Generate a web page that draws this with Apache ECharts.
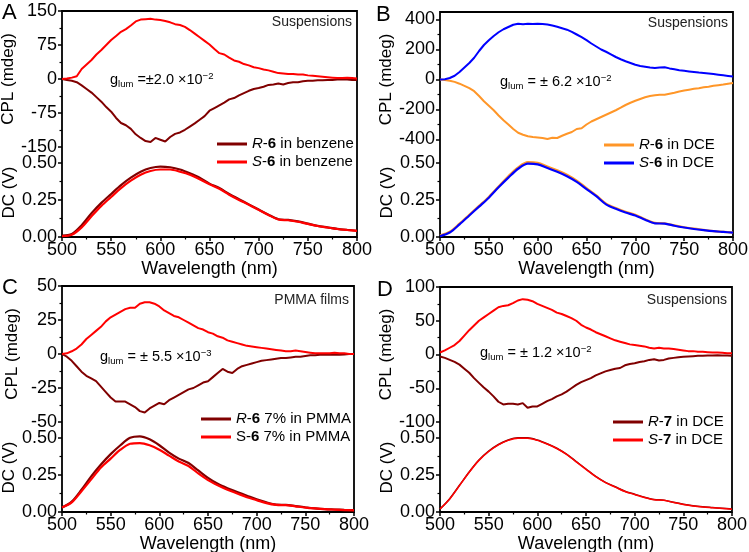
<!DOCTYPE html>
<html><head><meta charset="utf-8">
<script src="https://cdn.jsdelivr.net/npm/echarts@6/dist/echarts.min.js"></script>
<style>html,body{margin:0;padding:0;background:#fff}#c{width:749px;height:552px}</style>
</head><body><div id="c"></div>
<script>
// ---------------- data ----------------
const wl5 = [500,505,510,515,520,525,530,535,540,545,550,555,560,565,570,575,580,585,590,595,600,605,610,615,620,625,630,635,640,645,650,655,660,665,670,675,680,685,690,695,700,705,710,715,720,725,730,735,740,745,750,755,760,765,770,775,780,785,790,795,800];
const wl10 = [500,510,520,530,540,550,560,570,580,590,600,610,620,630,640,650,660,670,680,690,700,710,720,730,740,750,760,770,780,790,800];

// Panel A (benzene suspensions)
const A_cplR = [0,-2,-4,-7,-14,-22,-30,-40,-50,-62,-72,-86,-97,-102,-110,-122,-130,-137,-139,-130,-134,-138,-128,-121,-118,-112,-105,-98,-90,-82,-70,-64,-58,-52,-45,-42,-36,-31,-26,-22,-20,-17,-13,-12,-10,-12,-9,-7,-7,-5,-4,-4,-3,-3,-2,-2,-1,-1,-1,-2,-2];
const A_cplS = [0,1,3,6,22,32,42,54,64,75,86,95,104,110,118,127,131,132,133,131,130,128,125,121,119,115,108,100,92,84,76,66,57,54,47,41,38,33,30,26,24,21,19,16,13,12,11,11,10,10,8,7,6,5,4,3,2,2,3,2,1];
const A_dcR = [0.01,0.02,0.08,0.16,0.23,0.29,0.35,0.40,0.44,0.465,0.475,0.47,0.455,0.43,0.40,0.36,0.33,0.29,0.255,0.22,0.185,0.15,0.12,0.115,0.105,0.09,0.075,0.065,0.055,0.048,0.042];
const A_dcS = [0.005,0.015,0.065,0.14,0.21,0.27,0.33,0.38,0.42,0.445,0.455,0.455,0.44,0.42,0.39,0.355,0.325,0.285,0.25,0.218,0.183,0.148,0.118,0.113,0.103,0.088,0.074,0.064,0.054,0.047,0.041];

// Panel B (DCE suspensions)
const B_cplR = [0,-3,-8,-16,-28,-42,-58,-78,-110,-145,-175,-205,-240,-272,-300,-330,-355,-368,-378,-383,-386,-390,-397,-388,-390,-375,-362,-350,-330,-325,-300,-280,-265,-250,-235,-220,-205,-188,-170,-155,-142,-130,-118,-110,-105,-102,-102,-95,-88,-80,-74,-68,-62,-58,-52,-48,-42,-38,-34,-28,-24];
const B_cplS = [0,2,10,25,50,80,110,145,190,230,262,290,315,335,350,365,372,368,371,370,372,370,367,360,352,342,332,318,300,282,262,240,220,200,185,168,150,135,122,110,98,90,85,80,76,80,82,74,68,62,58,54,50,46,43,40,36,32,28,24,20];
const B_dcR = [0.01,0.035,0.09,0.15,0.21,0.27,0.34,0.41,0.47,0.505,0.50,0.475,0.45,0.42,0.38,0.33,0.28,0.225,0.195,0.17,0.15,0.12,0.095,0.092,0.078,0.066,0.056,0.048,0.04,0.035,0.03];
const B_dcS = [0.005,0.03,0.085,0.145,0.205,0.265,0.335,0.40,0.46,0.495,0.49,0.465,0.44,0.41,0.372,0.323,0.275,0.22,0.19,0.165,0.145,0.116,0.092,0.09,0.076,0.064,0.054,0.046,0.039,0.034,0.029];

// Panel C (PMMA films)
const C_cplR = [0,-2,-5,-9,-13,-16,-18,-20,-24,-28,-32,-35,-35,-35,-37,-39,-42,-43,-40,-38,-36,-37,-34,-32,-30,-28,-26,-25,-23,-21,-20,-17,-14,-11,-13,-14,-11,-9,-8,-7,-6,-5,-4.5,-4,-3.5,-3,-3,-2.5,-2,-2,-1.5,-1,-1,-0.5,-0.5,-0.5,-0.5,-0.5,-0.3,0,0];
const C_cplS = [0,0.5,2,4,7,11,14,17,20,24,27,29,31,33,34,34,37,38,38,37,35,32,30,28,27,25,23,21,19,18,16,15,13,12,10,9,8,7,6,5.5,5,4.5,4,3.5,3,2.5,2,2,2.5,2,1.5,1,0.5,0.5,0.5,0.5,1,0.5,0.5,0,0];
const C_dcR = [0.03,0.07,0.15,0.24,0.32,0.39,0.45,0.50,0.51,0.49,0.45,0.40,0.36,0.33,0.28,0.23,0.19,0.16,0.135,0.11,0.085,0.065,0.05,0.048,0.04,0.032,0.025,0.02,0.017,0.014,0.012];
const C_dcS = [0.03,0.065,0.14,0.22,0.30,0.36,0.42,0.46,0.465,0.45,0.42,0.38,0.34,0.31,0.26,0.215,0.18,0.15,0.125,0.10,0.08,0.06,0.048,0.046,0.038,0.03,0.024,0.019,0.016,0.013,0.011];

// Panel D (compound 7, DCE suspensions)
const D_cplR = [-3,-5,-8,-11,-15,-21,-27,-35,-42,-49,-55,-62,-70,-74,-73,-73,-74,-72,-79,-77,-77,-73,-69,-66,-62,-59,-55,-50,-45,-41,-38,-35,-31,-28,-25,-23,-21,-20,-16,-14,-13,-11,-10,-8,-7,-9,-8,-6,-5,-4,-3.5,-3,-2.5,-2,-2,-1.5,-1.5,-1,-1.5,-1.5,-2];
const D_cplS = [3,6,10,14,20,28,36,43,50,55,60,65,70,72,73,76,80,82,81,79,75,72,69,66,62,60,57,54,50,44,40,37,33,30,27,24,21,19,17,15,14,13,12,10,9,10,9,9,8,7,6,5,5,4,4,3.5,3,3,2.5,2,2];
const D_dcR = [0.02,0.09,0.18,0.27,0.35,0.41,0.455,0.485,0.50,0.50,0.485,0.46,0.43,0.39,0.34,0.29,0.24,0.20,0.17,0.14,0.12,0.10,0.085,0.08,0.065,0.052,0.042,0.035,0.03,0.025,0.02];
const D_dcS = [0.02,0.088,0.178,0.268,0.348,0.408,0.453,0.483,0.498,0.498,0.483,0.458,0.428,0.388,0.338,0.288,0.238,0.198,0.168,0.138,0.118,0.098,0.083,0.079,0.064,0.051,0.041,0.034,0.029,0.024,0.019];

const xTicks = [500,550,600,650,700,750,800];
const dcTicks = [0, 0.25, 0.5];

// ---------------- layout / style ----------------
const FONT = "'Liberation Sans', Arial, Helvetica, sans-serif";
const DARK = '#800000', RED = '#ff0000', ORANGE = '#ff9628', BLUE = '#0000ff';

const panels = [
  {letter:'A', box:{l:62,t:11,w:295,m:147,b:237}, cpl:{min:-150,max:150,interval:75,ticks:[-150,-75,0,75,150]},
   R:{name:'R-6 in benzene', fmt:'{i|R}-{b|6} in benzene', color:DARK, cpl:A_cplR, dc:A_dcR},
   S:{name:'S-6 in benzene', fmt:'{i|S}-{b|6} in benzene', color:RED, cpl:A_cplS, dc:A_dcS},
   dcW:2.2, leg:{l:217,t:136}, note:{t:'Suspensions', x:352, y:22},
   g:{t:'g{s|lum} =±2.0 ×10{p|−2}', x:110, y:80}, L:{x:2,y:2}},
  {letter:'B', box:{l:440,t:12,w:293,m:147,b:237}, cpl:{min:-450,max:450,ticks:[-400,-200,0,200,400]},
   R:{name:'R-6 in DCE', fmt:'{i|R}-{b|6} in DCE', color:ORANGE, cpl:B_cplR, dc:B_dcR},
   S:{name:'S-6 in DCE', fmt:'{i|S}-{b|6} in DCE', color:BLUE, cpl:B_cplS, dc:B_dcS},
   dcW:2.2, leg:{l:604,t:137}, note:{t:'Suspensions', x:728, y:23},
   g:{t:'g{s|lum} = ± 6.2 ×10{p|−2}', x:500, y:82}, L:{x:376,y:4}},
  {letter:'C', box:{l:62,t:286,w:292,m:422,b:512}, cpl:{min:-50,max:50,interval:25,ticks:[-50,-25,0,25,50]},
   R:{name:'R-6 7% in PMMA', fmt:'{i|R}-{b|6} 7% in PMMA', color:DARK, cpl:C_cplR, dc:C_dcR},
   S:{name:'S-6 7% in PMMA', fmt:'S-{b|6} 7% in PMMA', color:RED, cpl:C_cplS, dc:C_dcS},
   dcW:2.2, leg:{l:201,t:411}, note:{t:'PMMA films', x:349, y:300},
   g:{t:'g{s|lum} = ± 5.5 ×10{p|−3}', x:100, y:357}, L:{x:2,y:277}},
  {letter:'D', box:{l:440,t:287,w:292,m:422,b:512}, cpl:{min:-100,max:100,interval:50,ticks:[-100,-50,0,50,100]},
   R:{name:'R-7 in DCE', fmt:'{i|R}-{b|7} in DCE', color:DARK, cpl:D_cplR, dc:D_dcR},
   S:{name:'S-7 in DCE', fmt:'{i|S}-{b|7} in DCE', color:RED, cpl:D_cplS, dc:D_dcS},
   dcW:1.5, leg:{l:613,t:414}, note:{t:'Suspensions', x:727, y:300},
   g:{t:'g{s|lum} = ± 1.2 ×10{p|−2}', x:480, y:353}, L:{x:377,y:279}}
];

const tickStyle = {color:'#000', width:1.5};
function xAxisDef(gi, showAll) {
  return {
    gridIndex: gi, type:'value', min:500, max:800, interval:50, show: showAll,
    axisLine:{show:false, onZero:false},
    axisTick:{show:true, inside:false, length:4, lineStyle:tickStyle},
    minorTick:{show:true, splitNumber:2, length:2.5, lineStyle:{color:'#000', width:1.2}},
    axisLabel:{show:true, margin:4, color:'#000', fontSize:18, fontFamily:FONT},
    splitLine:{show:false}, minorSplitLine:{show:false},
    name: showAll ? 'Wavelength (nm)' : '', nameLocation:'middle', nameGap:19,
    nameTextStyle:{color:'#000', fontSize:18, fontFamily:FONT}
  };
}
function yAxisDef(gi, o) {
  return {
    gridIndex: gi, type:'value', min:o.min, max:o.max, interval:o.interval,
    axisLine:{show:false, onZero:false},
    axisTick:{show:true, inside:false, length:4, lineStyle:tickStyle, customValues:o.ticks},
    minorTick:{show:true, splitNumber:2, length:2.5, lineStyle:{color:'#000', width:1.2}},
    axisLabel:{show:true, margin:5, color:'#000', fontSize:18, fontFamily:FONT, customValues:o.ticks,
               formatter:o.fmt},
    splitLine:{show:false}, minorSplitLine:{show:false},
    name:o.name, nameLocation:'middle', nameGap:o.gap, nameRotate:90,
    nameTextStyle:{color:'#000', fontSize:17, fontFamily:FONT}
  };
}

const grid = [], frames = [], xAxis = [], yAxis = [], series = [], legend = [], graphic = [];
panels.forEach((p, k) => {
  const b = p.box;
  const gC = 2*k, gD = 2*k + 1;
  grid.push({left:b.l, top:b.t, width:b.w, height:b.m - b.t, outerBoundsMode:'none', containLabel:false});
  grid.push({left:b.l, top:b.m + 1, width:b.w, height:b.b - b.m - 1, outerBoundsMode:'none', containLabel:false});
  xAxis.push(xAxisDef(gC, false));
  xAxis.push(xAxisDef(gD, true));
  yAxis.push(yAxisDef(gC, {min:p.cpl.min, max:p.cpl.max, interval:p.cpl.interval, ticks:p.cpl.ticks, name:'CPL (mdeg)', gap:41}));
  yAxis.push(yAxisDef(gD, {min:0, max:0.6, interval:0.25, ticks:dcTicks, name:'DC (V)', gap:41,
                            fmt: v => v.toFixed(2)}));
  [p.R, p.S].forEach(s => {
    series.push({type:'line', name:s.name, xAxisIndex:gC, yAxisIndex:gC, symbol:'none', showSymbol:false,
      data: wl5.map((w, i) => [w, s.cpl[i]]), lineStyle:{color:s.color, width:2}, itemStyle:{color:s.color}});
    series.push({type:'line', name:s.name, xAxisIndex:gD, yAxisIndex:gD, symbol:'none', showSymbol:false, smooth:0.3,
      data: wl10.map((w, i) => [w, s.dc[i]]), lineStyle:{color:s.color, width:p.dcW}, itemStyle:{color:s.color}});
  });
  const fm = {}; fm[p.R.name] = p.R.fmt; fm[p.S.name] = p.S.fmt;
  const base = {fontSize:15, fontFamily:FONT, color:'#000', lineHeight:16};
  legend.push({
    data:[p.R.name, p.S.name], left:p.leg.l, top:p.leg.t, orient:'vertical', padding:0,
    icon:'rect', itemWidth:30, itemHeight:3, itemGap:2, selectedMode:false,
    lineStyle:{width:3}, formatter: n => fm[n],
    textStyle: Object.assign({}, base, {rich:{
      i: Object.assign({}, base, {fontStyle:'italic'}),
      b: Object.assign({}, base, {fontWeight:'bold'})
    }})
  });
  graphic.push({type:'text', x:p.L.x, y:p.L.y, style:{text:p.letter, font:'22px ' + FONT, fill:'#000',
    align:'left', verticalAlign:'top', textAlign:'left', textVerticalAlign:'top'}});
  graphic.push({type:'text', x:p.note.x, y:p.note.y, style:{text:p.note.t, font:'14px ' + FONT, fill:'#222',
    align:'right', verticalAlign:'middle', textAlign:'right', textVerticalAlign:'middle'}});
  graphic.push({type:'text', x:p.g.x, y:p.g.y, style:{text:p.g.t, font:'14.5px ' + FONT, fill:'#000', lineHeight:18,
    align:'left', verticalAlign:'middle', textAlign:'left', textVerticalAlign:'middle',
    rich:{
      s:{fontSize:9.5, fontFamily:FONT, lineHeight:9, verticalAlign:'bottom', fill:'#000'},
      p:{fontSize:9.5, fontFamily:FONT, lineHeight:9, verticalAlign:'top', fill:'#000'}
    }}});
  // panel frame
  frames.push({left:b.l, top:b.t, width:b.w, height:b.b - b.t, show:true, borderColor:'#000', borderWidth:1.8,
             backgroundColor:'transparent', outerBoundsMode:'none'});
});

const chart = echarts.init(document.getElementById('c'), null, {renderer:'canvas'});
chart.setOption({animation:false, backgroundColor:'#fff', grid: grid.concat(frames), xAxis, yAxis, series, legend, graphic,
  textStyle:{fontFamily:FONT}});
</script></body></html>
